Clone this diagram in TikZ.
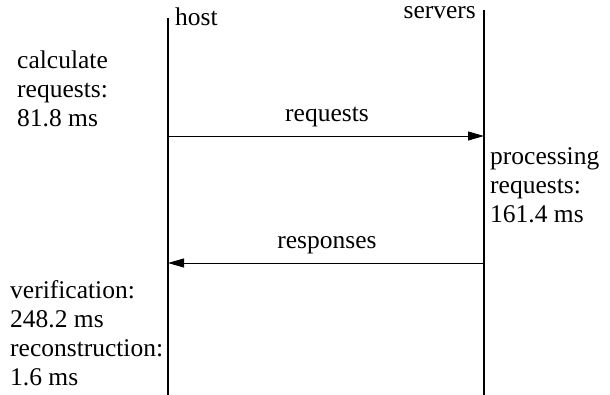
\documentclass[tikz,border=0pt]{standalone}
\usepackage{fontspec}
\setmainfont{Liberation Serif}
\usetikzlibrary{arrows.meta}
\begin{document}
\begin{tikzpicture}[x=1pt,y=-1pt,
  lbl/.style={inner sep=0pt,anchor=base west,align=left,font=\fontsize{25.5}{29}\selectfont},
  life/.style={line width=1.4pt},
  msg/.style={line width=0.9pt,-{Stealth[length=16pt,width=9pt,inset=0pt]}}]
\useasboundingbox (0,0) rectangle (610,395);
\coordinate (htop) at (168,18);
\coordinate (hbot) at (168,395);
\coordinate (stop) at (484,10);
\coordinate (sbot) at (484,395);
\draw[life] (htop) -- (hbot);
\draw[life] (stop) -- (sbot);
\node[lbl] (host) at (175,26) {host};
\node[lbl,anchor=base east] (servers) at (476,18.5) {servers};
\coordinate (r1) at (168,136);
\coordinate (r2) at (484,136);
\draw[msg] (r1) -- (r2);
\node[lbl,anchor=base] (reqlbl) at (327,122) {requests};
\coordinate (s1) at (484,263);
\coordinate (s2) at (168,263);
\draw[msg] (s1) -- (s2);
\node[lbl,anchor=base] (reslbl) at (327,248.5) {responses};
\node[lbl] (calc) at (17,127) {calculate\\requests:\\81.8 ms};
\node[lbl] (proc) at (490,223) {processing\\requests:\\161.4 ms};
\node[lbl] (verif) at (10,385.5) {verification:\\248.2 ms\\reconstruction:\\1.6 ms};
\end{tikzpicture}
\end{document}
